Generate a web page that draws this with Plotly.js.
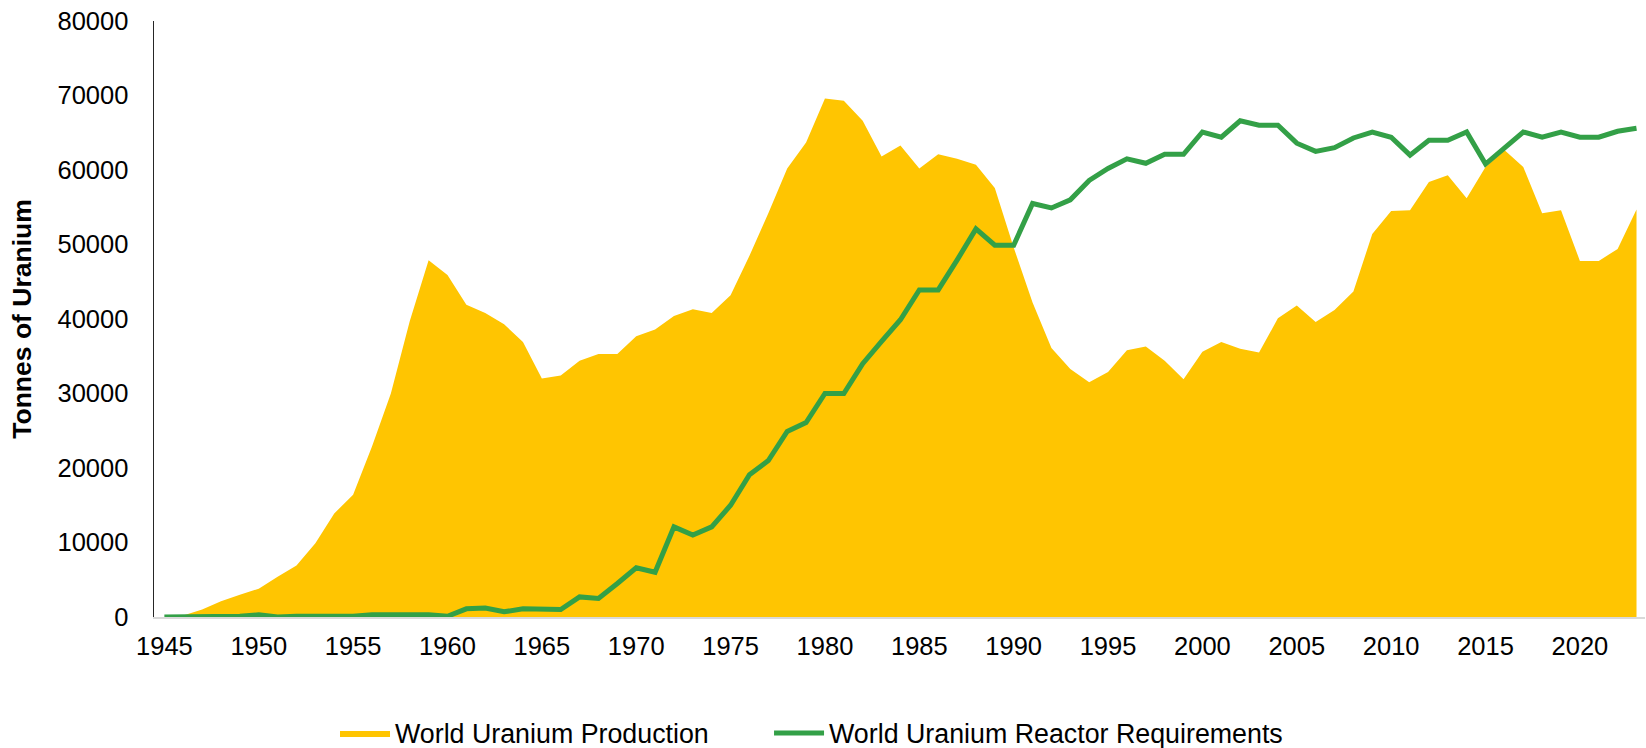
<!DOCTYPE html>
<html>
<head>
<meta charset="utf-8">
<script src="https://cdn.plot.ly/plotly-3.0.1.min.js"></script>
<style>
  html, body { margin: 0; padding: 0; background: #ffffff; }
  #chart { width: 1646px; height: 748px; }
</style>
</head>
<body>
<div id="chart"></div>
<script>
// Years 1945 - 2023
const years = [];
for (let y = 1945; y <= 2023; y++) years.push(y);

// World uranium production (tonnes U)
const production = [
  0, 200, 1000, 2100, 3000, 3800, 5400, 6900, 9900, 13900,
  16400, 22900, 30000, 39700, 47900, 45900, 41900, 40800, 39300, 36900,
  32000, 32400, 34400, 35300, 35300, 37700, 38600, 40400, 41300, 40800,
  43200, 48500, 54200, 60200, 63700, 69600, 69300, 66600, 61800, 63300,
  60200, 62100, 61500, 60700, 57600, 49600, 42200, 36100, 33300, 31500,
  32900, 35800, 36300, 34400, 31900, 35600, 36900, 36000, 35500, 40100,
  41800, 39600, 41200, 43700, 51400, 54500, 54600, 58400, 59300, 56200,
  60400, 62700, 60400, 54200, 54600, 47800, 47800, 49400, 54700
];

// World uranium reactor requirements (tonnes U)
const requirements = [
  0, 0, 0, 0, 100, 300, 0, 100, 100, 100,
  100, 300, 300, 200, 300, 100, 1100, 1200, 700, 1100,
  1000, 1000, 2700, 2500, 4500, 6600, 6000, 12100, 11000, 12100,
  15000, 19100, 21000, 24900, 26100, 30000, 30000, 34000, 37000, 39900,
  43900, 43900, 47900, 52100, 49900, 49900, 55500, 54900, 56000, 58600,
  60200, 61500, 60900, 62100, 62100, 65100, 64400, 66600, 66000, 66000,
  63600, 62500, 63000, 64300, 65100, 64400, 62000, 64000, 64000, 65100,
  60800, 62900, 65100, 64400, 65100, 64400, 64400, 65200, 65600
];

const xTickVals = [1945, 1950, 1955, 1960, 1965, 1970, 1975, 1980, 1985, 1990, 1995, 2000, 2005, 2010, 2015, 2020];
const yTickVals = [0, 10000, 20000, 30000, 40000, 50000, 60000, 70000, 80000];

const FONT = "'Liberation Sans', Arial, sans-serif";

const traces = [
  {
    type: 'scatter',
    mode: 'lines',
    name: 'World Uranium Production',
    x: years,
    y: production,
    fill: 'tozeroy',
    fillcolor: '#FFC501',
    line: { width: 0, color: '#FFC501' },
    legend: 'legend',
    hoverinfo: 'x+y'
  },
  {
    type: 'scatter',
    mode: 'lines',
    name: 'World Uranium Reactor Requirements',
    x: years,
    y: requirements,
    line: { width: 5, color: '#33A047' },
    legend: 'legend2',
    hoverinfo: 'x+y'
  }
];

const legendCommon = {
  orientation: 'h',
  xref: 'paper',
  xanchor: 'left',
  yref: 'container',
  y: 0.02005,
  yanchor: 'middle',
  font: { family: FONT, size: 26.8, color: '#000000' },
  itemwidth: 50,
  bgcolor: 'rgba(0,0,0,0)'
};

const layout = {
  width: 1646,
  height: 748,
  margin: { l: 154, r: 1, t: 21, b: 131, pad: 0 },
  paper_bgcolor: '#ffffff',
  plot_bgcolor: '#ffffff',
  font: { family: FONT, size: 25, color: '#000000' },
  showlegend: true,
  legend: Object.assign({}, legendCommon, { x: 0.1214 }),
  legend2: Object.assign({}, legendCommon, { x: 0.4125 }),
  xaxis: {
    type: 'linear',
    range: [1944.45, 2023.45],
    tickmode: 'array',
    tickvals: xTickVals,
    ticktext: xTickVals.map(String),
    showgrid: false,
    zeroline: false,
    showline: true,
    linecolor: '#D9D9D9',
    linewidth: 2,
    ticks: 'outside',
    ticklen: 5,
    tickcolor: 'rgba(0,0,0,0)',
    tickfont: { family: FONT, size: 25.5, color: '#000000' },
    automargin: false,
    fixedrange: true
  },
  yaxis: {
    range: [0, 80000],
    tickmode: 'array',
    tickvals: yTickVals,
    ticktext: yTickVals.map(String),
    showgrid: false,
    zeroline: false,
    showline: true,
    linecolor: '#262626',
    linewidth: 1.5,
    ticks: 'outside',
    ticklen: 19,
    tickcolor: 'rgba(0,0,0,0)',
    tickfont: { family: FONT, size: 25.5, color: '#000000' },
    title: {
      text: '<b>Tonnes of Uranium</b>',
      font: { family: FONT, size: 26.5, color: '#000000' },
      standoff: 18
    },
    automargin: false,
    fixedrange: true
  }
};

Plotly.newPlot('chart', traces, layout, { displayModeBar: false, staticPlot: true });
</script>
</body>
</html>
